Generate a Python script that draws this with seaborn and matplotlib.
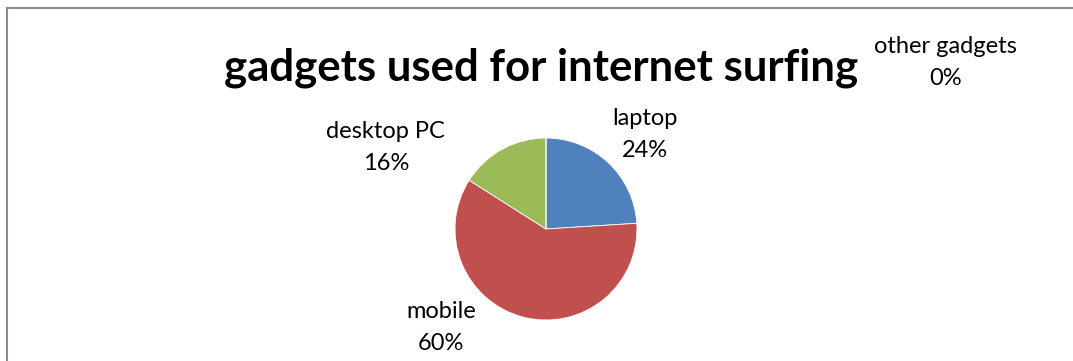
import matplotlib
matplotlib.use("Agg")
import matplotlib.pyplot as plt
from matplotlib.patches import Rectangle
import seaborn as sns

# Data
categories = ["laptop", "mobile", "desktop PC", "other gadgets"]
shares = [24, 60, 16, 0]
colors = ["#4F81BD", "#C0504D", "#9BBB59", "#8064A2"]

# Label anchor points in pie data units (radius = 1)
label_pos = [(1.09, 1.04), (-1.155, -1.085), (-1.76, 0.895), (4.39, 1.83)]

sns.set_theme(style="white")
plt.rcParams["font.family"] = ["Lato", "DejaVu Sans"]

W, H = 1073, 361
fig = plt.figure(figsize=(W / 100, H / 100), dpi=100)
fig.patch.set_facecolor("white")

# Chart border (top and left edges visible, the rest runs off the canvas)
fig.patches.append(Rectangle((6.5 / W, -0.1), 1.2, (H - 8) / H + 0.1,
                             transform=fig.transFigure, fill=False,
                             edgecolor="#8c8c8c", linewidth=1.5))

cx, cy, r = 546, 229, 91
half = r * 1.1
ax = fig.add_axes([(cx - half) / W, (H - cy - half) / H, 2 * half / W, 2 * half / H])
ax.pie(shares, colors=colors, startangle=90, counterclock=False,
       wedgeprops=dict(edgecolor="white", linewidth=0.6))
ax.set_xlim(-1.1, 1.1)
ax.set_ylim(-1.1, 1.1)
ax.set_aspect("equal")
ax.axis("off")

total = sum(shares)
for cat, val, (x, y) in zip(categories, shares, label_pos):
    ax.text(x, y, f"{cat}\n{round(100 * val / total)}%", ha="center", va="center",
            fontsize=17, color="black", linespacing=1.62, clip_on=False)

fig.text(541 / W, 1 - 68 / H, "gadgets used for internet surfing", ha="center",
         va="center", fontsize=31.5, fontweight="bold", color="black")

fig.savefig("out.png", dpi=100)
